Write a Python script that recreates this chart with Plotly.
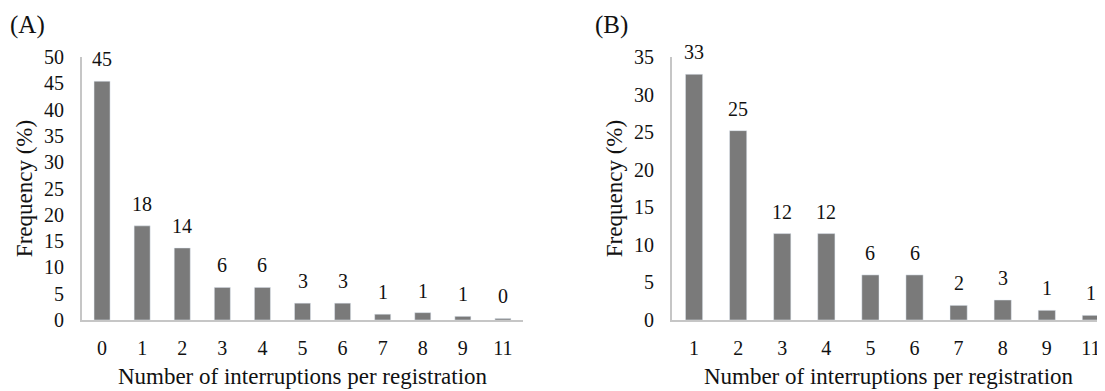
import plotly.graph_objects as go

cats_a = ["0", "1", "2", "3", "4", "5", "6", "7", "8", "9", "11"]
vals_a = [45.4, 17.9, 13.7, 6.2, 6.2, 3.2, 3.2, 1.1, 1.4, 0.7, 0.3]
labels_a = ["45", "18", "14", "6", "6", "3", "3", "1", "1", "1", "0"]

cats_b = ["1", "2", "3", "4", "5", "6", "7", "8", "9", "11"]
vals_b = [32.7, 25.2, 11.5, 11.5, 6.0, 6.0, 1.95, 2.66, 1.29, 0.62]
labels_b = ["33", "25", "12", "12", "6", "6", "2", "3", "1", "1"]

yticks_a = [0, 5, 10, 15, 20, 25, 30, 35, 40, 45, 50]
yticks_b = [0, 5, 10, 15, 20, 25, 30, 35]

FONT = "Times New Roman, Liberation Serif, serif"
BAR = "#7a7a7a"
AXIS = "#c6c6c6"
TXT = "#111111"
FS = 20
FT = 23

W, H = 1097, 383

fig = go.Figure()
fig.add_trace(go.Bar(x=cats_a, y=vals_a, marker_color=BAR, width=0.4,
                     xaxis="x", yaxis="y", showlegend=False, hoverinfo="skip"))
fig.add_trace(go.Bar(x=cats_b, y=vals_b, marker_color=BAR, width=0.39,
                     xaxis="x2", yaxis="y2", showlegend=False, hoverinfo="skip"))

annotations = []
for i, (v, t) in enumerate(zip(vals_a, labels_a)):
    annotations.append(dict(x=i, y=v, xref="x", yref="y", text=t, showarrow=False,
                            yanchor="bottom", yshift=9, font=dict(family=FONT, size=FS, color=TXT)))
for i, (v, t) in enumerate(zip(vals_b, labels_b)):
    annotations.append(dict(x=i, y=v, xref="x2", yref="y2", text=t, showarrow=False,
                            yanchor="bottom", yshift=9, font=dict(family=FONT, size=FS, color=TXT)))
annotations.append(dict(x=0 / W, y=1.122, xref="paper", yref="paper", text="(A)", showarrow=False,
                        xanchor="left", yanchor="middle", font=dict(family=FONT, size=25, color=TXT)))
annotations.append(dict(x=585 / W, y=1.122, xref="paper", yref="paper", text="(B)", showarrow=False,
                        xanchor="left", yanchor="middle", font=dict(family=FONT, size=25, color=TXT)))

xcommon = dict(type="category", showline=True, linecolor=AXIS, linewidth=2, showgrid=False,
               ticks="", tickfont=dict(family=FONT, size=FS, color=TXT), ticklabelstandoff=9,
               title=dict(text="Number of interruptions per registration",
                          font=dict(family=FONT, size=FT, color=TXT), standoff=10),
               zeroline=False, fixedrange=True)
ycommon = dict(showline=True, linecolor=AXIS, linewidth=2, showgrid=False, ticks="",
               tickfont=dict(family=FONT, size=FS, color=TXT), ticklabelstandoff=12,
               title=dict(text="Frequency (%)", font=dict(family=FONT, size=FT, color=TXT), standoff=5),
               zeroline=False, fixedrange=True)

fig.update_layout(
    width=W, height=H,
    margin=dict(l=0, r=0, t=49, b=71),
    paper_bgcolor="white", plot_bgcolor="white",
    bargap=0.6,
    xaxis=dict(xcommon, domain=[74 / W, 515 / W], anchor="y", range=[-0.5, 10.5]),
    yaxis=dict(ycommon, domain=[0, 1], anchor="x", range=[0, 50], tickvals=yticks_a),
    xaxis2=dict(xcommon, domain=[664 / W, 1.0], anchor="y2", range=[-0.5, 9.32]),
    yaxis2=dict(ycommon, domain=[0, 1], anchor="x2", range=[0, 35], tickvals=yticks_b),
    annotations=annotations,
)

fig.write_html("out.html")
